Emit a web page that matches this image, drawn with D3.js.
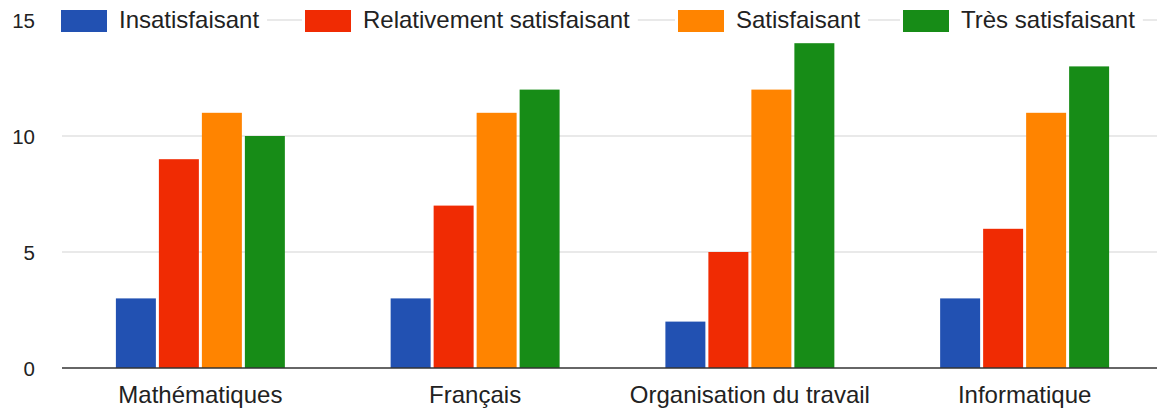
<!DOCTYPE html>
<html><head><meta charset="utf-8">
<script src="https://cdn.jsdelivr.net/npm/d3@7"></script>
<style>body{margin:0;background:#fff}svg{display:block}text{font-family:"Liberation Sans",Arial,sans-serif}</style>
</head><body><svg id="c" width="1157" height="412"></svg>
<script>
const categories = ["Mathématiques","Français","Organisation du travail","Informatique"];
const seriesNames = ["Insatisfaisant","Relativement satisfaisant","Satisfaisant","Très satisfaisant"];
const insatisfaisant = [3,3,2,3];
const relativement = [9,7,5,6];
const satisfaisant = [11,11,12,11];
const tresSatisfaisant = [10,12,14,13];
const yTicks = [0,5,10,15];
const colors = ["#2251b2","#f02b03","#ff8400","#178c17"];
const seriesValues = [insatisfaisant, relativement, satisfaisant, tresSatisfaisant];

const svg = d3.select("#c");
const y = d3.scaleLinear().domain([0,15]).range([368,20]);
const x0 = d3.scaleBand().domain(categories).range([63,1162]).paddingInner(0.385).paddingOuter(0.1925);
const x1 = d3.scaleBand().domain(seriesNames).range([0,x0.bandwidth()]).paddingInner(0.07);

// gridlines
svg.append("g").selectAll("line").data(yTicks.filter(d=>d>0)).join("line")
  .attr("x1",62).attr("x2",1157).attr("y1",d=>y(d)).attr("y2",d=>y(d))
  .attr("stroke","#e2e2e2").attr("stroke-width",1.5);

// y axis labels
const yAxis = d3.axisLeft(y).tickValues(yTicks).tickSize(0).tickPadding(0);
const ya = svg.append("g").attr("transform","translate(35,0)").call(yAxis);
ya.select(".domain").remove();
ya.selectAll("text").attr("font-size",20.5).attr("fill","#222").attr("dy","0.35em");

// bars
const groups = svg.append("g").selectAll("g").data(categories).join("g")
  .attr("transform",d=>`translate(${x0(d)},0)`);
groups.selectAll("rect").data((c,i)=>seriesNames.map((s,j)=>({s,v:seriesValues[j][i],j}))).join("rect")
  .attr("x",d=>x1(d.s)).attr("width",x1.bandwidth())
  .attr("y",d=>y(d.v)).attr("height",d=>y(0)-y(d.v))
  .attr("fill",d=>colors[d.j]);

// x axis
const xAxis = d3.axisBottom(x0).tickSize(0);
const xa = svg.append("g").attr("transform",`translate(0,${y(0)})`).call(xAxis);
xa.select(".domain").attr("d",`M62,0H1157`).attr("stroke","#333").attr("stroke-width",1.5);
xa.selectAll("text").attr("font-size",24).attr("fill","#222").attr("y",35).attr("dy",0);

// legend
const legX = [61,305,678,903];
const leg = svg.append("g").selectAll("g").data(seriesNames).join("g")
  .attr("transform",(d,i)=>`translate(${legX[i]},0)`);
const bg = leg.append("rect").attr("fill","#fff").attr("y",4).attr("height",34).attr("x",-3);
leg.append("rect").attr("x",0).attr("y",10).attr("width",46).attr("height",22).attr("fill",(d,i)=>colors[i]);
const lt = leg.append("text").attr("x",58).attr("y",28).attr("font-size",24).attr("fill","#222").text(d=>d);
lt.each(function(d,i){
  const w = this.getComputedTextLength();
  d3.select(bg.nodes()[i]).attr("width",3+58+w+8);
});
</script></body></html>
